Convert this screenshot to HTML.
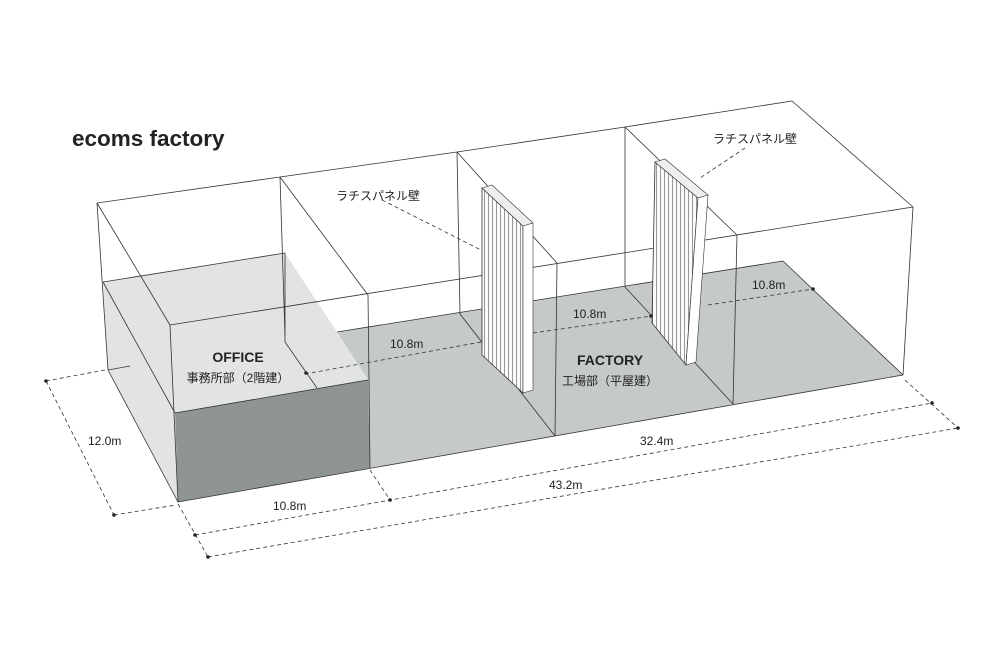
<!DOCTYPE html>
<html><head><meta charset="utf-8"><style>
html,body{margin:0;padding:0;background:#fff;width:1000px;height:666px;overflow:hidden}
svg{display:block}
text{font-family:"Liberation Sans","Noto Sans CJK JP",sans-serif;fill:#222}
</style></head><body>
<svg width="1000" height="666" viewBox="0 0 1000 666">
<defs>
<pattern id="stripes" width="4" height="10" patternUnits="userSpaceOnUse">
<rect width="4" height="10" fill="#fafafa"/><line x1="0.5" y1="0" x2="0.5" y2="10" stroke="#555" stroke-width="0.6"/>
</pattern>
</defs>
<rect width="1000" height="666" fill="#fff"/>
<text x="72" y="146" font-size="22.5" font-weight="bold">ecoms factory</text>

<!-- factory floor -->
<polygon points="337,332 783,261 903,375 370,468 368,380" fill="#c5c9c8"/>
<!-- office -->
<polygon points="103,282 285,253 337,332 368,380 175,413 178,502 108,370" fill="#e2e3e3"/>
<polygon points="175,413 368,380 370,468 178,502" fill="#8f9494"/>

<g stroke="#333" stroke-width="0.8" fill="none">
<polyline points="97,203 280,177 457,152 625,127 792,101"/>
<line x1="170" y1="325" x2="913" y2="207"/>
<line x1="97" y1="203" x2="170" y2="325"/>
<line x1="280" y1="177" x2="368" y2="295"/>
<line x1="457" y1="152" x2="557" y2="263"/>
<line x1="625" y1="127" x2="737" y2="235"/>
<line x1="792" y1="101" x2="913" y2="207"/>
<line x1="97" y1="203" x2="108" y2="370"/>
<line x1="170" y1="325" x2="178" y2="502"/>
<line x1="368" y1="295" x2="370" y2="468"/>
<line x1="557" y1="263" x2="555" y2="436"/>
<line x1="737" y1="235" x2="733" y2="404"/>
<line x1="913" y1="207" x2="903" y2="375"/>
<line x1="280" y1="177" x2="285" y2="336"/>
<line x1="457" y1="152" x2="460" y2="314"/>
<line x1="625" y1="127" x2="625" y2="287"/>
<line x1="103" y1="282" x2="285" y2="253"/>
<line x1="103" y1="282" x2="175" y2="413"/>
<line x1="285" y1="253" x2="285" y2="342"/>
<line x1="285" y1="342" x2="317" y2="388"/>
<line x1="175" y1="413" x2="368" y2="380"/>
<line x1="108" y1="370" x2="178" y2="502"/>
<line x1="108" y1="370" x2="130" y2="366"/>
<line x1="178" y1="502" x2="903" y2="375"/>
<line x1="337" y1="332" x2="783" y2="261"/>
<line x1="783" y1="261" x2="903" y2="375"/>
<line x1="460" y1="314" x2="555" y2="436"/>
<line x1="625" y1="287" x2="733" y2="404"/>
</g>

<!-- panel 1 -->
<polygon points="482,188 523,226 523,393 482,355" fill="url(#stripes)" stroke="#333" stroke-width="0.8"/>
<polygon points="482,188 492,185 533,223 523,226" fill="#eee" stroke="#333" stroke-width="0.6"/>
<polygon points="523,226 533,223 533,390 523,393" fill="#fff" stroke="#333" stroke-width="0.6"/>
<!-- panel 2 -->
<polygon points="655,162 698,198 686,365 652,323" fill="url(#stripes)" stroke="#333" stroke-width="0.8"/>
<polygon points="655,162 665,159 708,195 698,198" fill="#eee" stroke="#333" stroke-width="0.6"/>
<polygon points="698,198 708,195 696,362 686,365" fill="#fff" stroke="#333" stroke-width="0.6"/>

<g stroke="#333" stroke-width="0.8" fill="none" stroke-dasharray="4,3">
<line x1="46" y1="381" x2="114" y2="515"/>
<line x1="46" y1="381" x2="105" y2="370"/>
<line x1="114" y1="515" x2="176" y2="505"/>
<line x1="178" y1="504" x2="208" y2="557"/>
<line x1="370" y1="470" x2="390" y2="500"/>
<line x1="905" y1="380" x2="958" y2="428"/>
<line x1="195" y1="535" x2="932" y2="403"/>
<line x1="208" y1="557" x2="958" y2="428"/>
<line x1="305" y1="374" x2="481" y2="342"/>
<line x1="533" y1="333" x2="652" y2="316"/>
<line x1="708" y1="305" x2="813" y2="289"/>
<line x1="382" y1="200" x2="481" y2="250"/>
<line x1="745" y1="148" x2="700" y2="178"/>
</g>
<g fill="#222">
<circle cx="46" cy="381" r="1.8"/><circle cx="114" cy="515" r="1.8"/>
<circle cx="195" cy="535" r="1.8"/><circle cx="390" cy="500" r="1.8"/>
<circle cx="932" cy="403" r="1.8"/><circle cx="208" cy="557" r="1.8"/>
<circle cx="958" cy="428" r="1.8"/><circle cx="306" cy="373" r="1.8"/>
<circle cx="651" cy="316" r="1.8"/><circle cx="813" cy="289" r="1.8"/>
</g>

<g font-size="12">
<text x="88" y="445">12.0m</text>
<text x="273" y="510">10.8m</text>
<text x="640" y="445">32.4m</text>
<text x="549" y="489">43.2m</text>
<text x="390" y="348">10.8m</text>
<text x="573" y="318">10.8m</text>
<text x="752" y="289">10.8m</text>
<text x="336" y="200">ラチスパネル壁</text>
<text x="713" y="143">ラチスパネル壁</text>
</g>
<text x="238" y="362" font-size="14" font-weight="bold" text-anchor="middle">OFFICE</text>
<text x="238" y="382" font-size="12" text-anchor="middle">事務所部（2階建）</text>
<text x="610" y="365" font-size="14" font-weight="bold" text-anchor="middle">FACTORY</text>
<text x="610" y="385" font-size="12" text-anchor="middle">工場部（平屋建）</text>
</svg>
</body></html>
